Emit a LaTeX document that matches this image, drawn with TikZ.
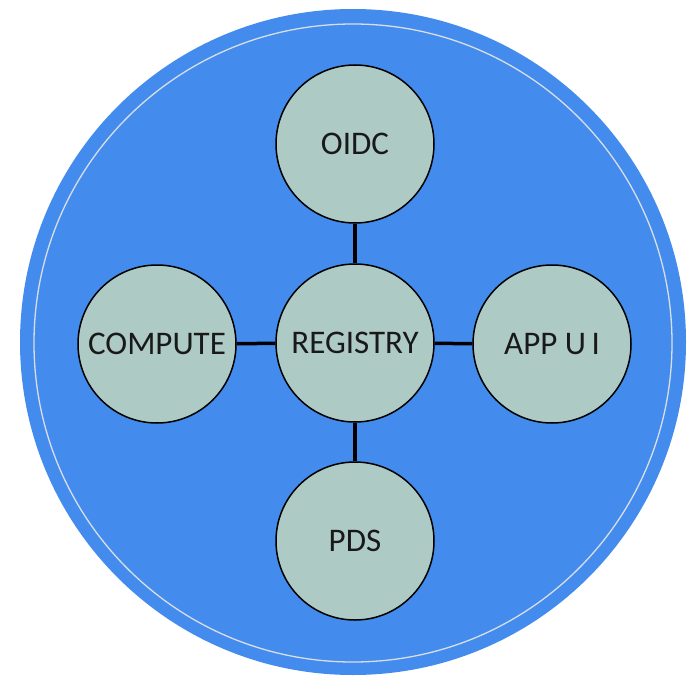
\documentclass[tikz,border=0pt]{standalone}
\usepackage{fontspec}
\setmainfont{Carlito}
\definecolor{outerblue}{HTML}{438CEE}
\definecolor{nodefill}{HTML}{AECAC4}
\definecolor{ringline}{HTML}{D8DEE8}
\begin{document}
\begin{tikzpicture}[x=1pt,y=-1pt,
  service/.style={circle,draw=black,line width=1.5pt,fill=nodefill,
    minimum size=158pt,inner sep=0pt,font=\fontsize{33}{33}\selectfont,text=black!90},
  link/.style={draw=black,line width=3.5pt}]
  \useasboundingbox (0,0) rectangle (696,685);
  % outer disc with its thin inner ring
  \fill[outerblue] (353,342) circle[radius=333];
  \draw[ringline,line width=1.3pt] (353,343) circle[radius=319];
  % services
  \node[service] (reg) at (355,343) {REGISTRY};
  \node[service] (oidc) at (355,144) {OIDC};
  \node[service] (pds) at (355,541) {PDS};
  \node[service] (comp) at (157,344) {COMPUTE};
  \node[service] (app) at (552,344) {APP U\,I};
  % links to the registry
  \draw[link] (reg) -- (oidc);
  \draw[link] (reg) -- (pds);
  \draw[link] (reg) -- (comp);
  \draw[link] (reg) -- (app);
\end{tikzpicture}
\end{document}
